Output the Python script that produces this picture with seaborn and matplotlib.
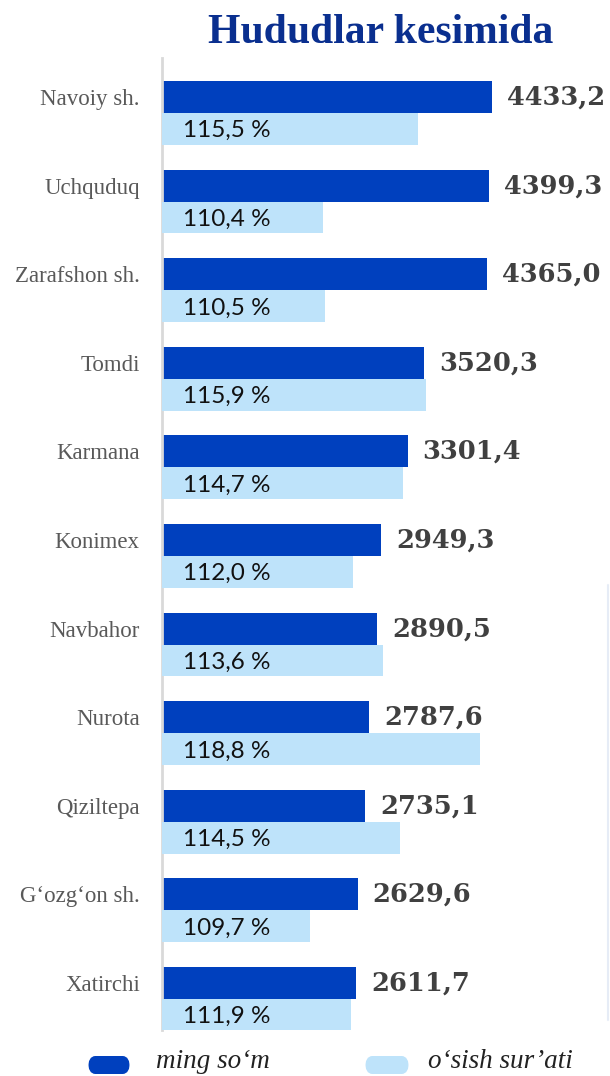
import numpy as np
import pandas as pd
import matplotlib
matplotlib.use("Agg")
import matplotlib.pyplot as plt
import seaborn as sns
from matplotlib.patches import FancyBboxPatch
from matplotlib.lines import Line2D

# data
regions = ["Navoiy sh.", "Uchquduq", "Zarafshon sh.", "Tomdi", "Karmana", "Konimex",
           "Navbahor", "Nurota", "Qiziltepa", "G\u2018ozg\u2018on sh.", "Xatirchi"]
amount = [4433.2, 4399.3, 4365.0, 3520.3, 3301.4, 2949.3, 2890.5, 2787.6, 2735.1, 2629.6, 2611.7]
growth = [115.5, 110.4, 110.5, 115.9, 114.7, 112.0, 113.6, 118.8, 114.5, 109.7, 111.9]

dark_blue = "#0040BE"
light_blue = "#BEE3FA"
title_color = "#0A2F8F"

sns.set_theme(style="white")
plt.rcParams["font.family"] = ["Liberation Serif", "DejaVu Serif"]

df = pd.DataFrame({"region": regions, "amount": amount, "growth": growth})
df["pos"] = np.arange(len(df))
df["pos_dark"] = df["pos"] - 0.18
df["pos_light"] = df["pos"] + 0.18

fig = plt.figure(figsize=(6.1, 10.76), dpi=100)
ax = fig.add_axes([162 / 610, 1 - 1030 / 1076, 438 / 610, 972 / 1076])
ax2 = ax.twiny()

sns.barplot(data=df, x="amount", y="pos_dark", orient="y", native_scale=True,
            width=0.36, color=dark_blue, saturation=1, linewidth=0, ax=ax)
sns.barplot(data=df, x="growth", y="pos_light", orient="y", native_scale=True,
            width=0.36, color=light_blue, saturation=1, linewidth=0, ax=ax2)

ax.set_xlim(0, 5887)
ax2.set_xlim(101.8, 125.2)
ax.set_ylim(10.35, -0.62)
ax2.set_ylim(10.35, -0.62)

# value labels
for _, r in df.iterrows():
    ax.annotate(f"{r['amount']:.1f}".replace(".", ","), xy=(r["amount"], r["pos_dark"]),
                xytext=(15, 0), textcoords="offset pixels", va="center", ha="left",
                fontsize=18.5, fontweight="bold", color="#404040", family="DejaVu Serif")
    ax2.text(0.048, r["pos_light"] + 0.02, f"{r['growth']:.1f} %".replace(".", ","),
             transform=ax2.get_yaxis_transform(), va="center", ha="left",
             fontsize=17.5, color="#111111", family="Lato")

ax.set_yticks(df["pos_dark"])
ax.set_yticklabels(regions, fontsize=16.5, color="#595959")
ax.tick_params(axis="y", length=0, pad=16)
ax.set_xticks([])
ax2.set_xticks([])
ax.set_xlabel("")
ax.set_ylabel("")
ax2.set_xlabel("")
ax2.set_ylabel("")
for a in (ax, ax2):
    for s in ("top", "right", "bottom"):
        a.spines[s].set_visible(False)
ax2.spines["left"].set_visible(False)
ax.spines["left"].set_color("#d9d9d9")
ax.spines["left"].set_linewidth(2)

fig.text(381 / 610, 1 - 33 / 1076, "Hududlar kesimida", ha="center", va="center",
         fontsize=30, fontweight="bold", color=title_color)

# legend along the bottom edge
W, H = 610, 1076
for x0, w, c in [(88, 42, dark_blue), (365, 44, light_blue)]:
    fig.patches.append(FancyBboxPatch((x0 / W, 1 - 1074 / H), w / W, 18 / H,
                                      boxstyle="round,pad=0,rounding_size=0.012",
                                      transform=fig.transFigure, facecolor=c,
                                      edgecolor="none"))
fig.text(156 / W, 1 - 1062 / H, "ming so\u2018m", ha="left", va="center",
         fontsize=19.5, style="italic", color="#222222")
fig.text(428 / W, 1 - 1062 / H, "o\u2018sish sur\u2019ati", ha="left", va="center",
         fontsize=19.5, style="italic", color="#222222")

fig.add_artist(Line2D([608 / W, 608 / W], [1 - 1020 / H, 1 - 585 / H],
                      transform=fig.transFigure, color="#e6ecf6", linewidth=1.5))

fig.savefig("out.png", dpi=100)
